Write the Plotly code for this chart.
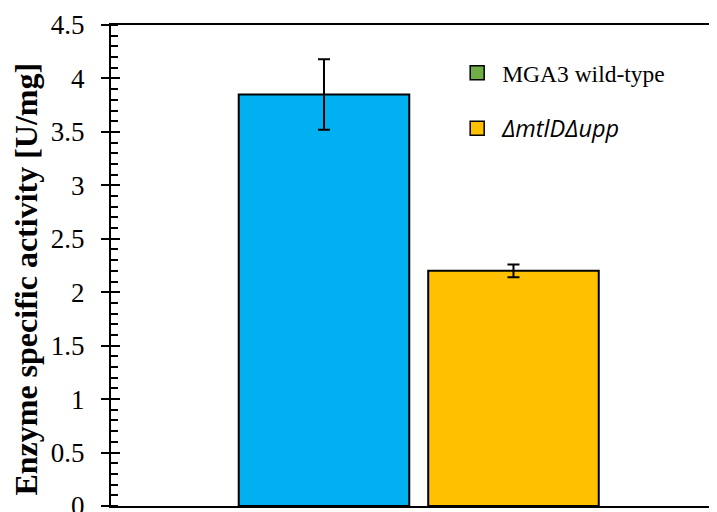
import plotly.graph_objects as go

categories = ["MGA3 wild-type", "ΔmtlDΔupp"]
values = [3.85, 2.20]
errors = [0.33, 0.06]
bar_colors = ["#00B0F0", "#FFC000"]
legend_labels = ["<span style='font-family:Liberation Serif'>MGA3 wild-type</span>",
                 "<span style='font-family:Open Sans'><i>ΔmtlDΔupp</i></span>"]
legend_colors = ["#70AD47", "#FFC000"]

fig = go.Figure()
fig.add_trace(go.Bar(
    x=categories, y=values,
    width=0.9,
    marker=dict(color=bar_colors, line=dict(color="black", width=2)),
    error_y=dict(type="data", array=errors, color="black", thickness=2, width=6),
    showlegend=False,
))
for lab, col in zip(legend_labels, legend_colors):
    fig.add_trace(go.Scatter(
        x=[None], y=[None], mode="markers", name=lab, legendgroup=lab,
        marker=dict(symbol="square", size=14, color=col, line=dict(color="black", width=1.5)),
    ))
# inside half of major ticks
fig.add_trace(go.Scatter(x=[None], y=[None], yaxis="y2", showlegend=False))

fig.update_layout(
    width=709, height=504,
    margin=dict(l=103, r=0, t=17, b=6),
    paper_bgcolor="white", plot_bgcolor="white",
    font=dict(family="Liberation Serif", color="black"),
    showlegend=True,
    legend=dict(x=0.563, y=0.946, xanchor="left", yanchor="top",
                font=dict(size=23.5, family="Liberation Serif", color="black"),
                itemwidth=40,
                traceorder="grouped", tracegroupgap=22, bgcolor="rgba(0,0,0,0)"),
    xaxis=dict(range=[-1.124, 2.074], showticklabels=False, ticks="",
               showline=True, mirror=True, linecolor="black", linewidth=2,
               showgrid=False, zeroline=False, automargin=False),
    yaxis=dict(range=[0, 4.5], dtick=0.5, tickformat="~g",
               ticks="outside", ticklen=8, tickwidth=2, tickcolor="black",
               ticklabelstandoff=11, ticklabeloverflow="allow", automargin=False,
               minor=dict(ticks="inside", ticklen=7, tickwidth=2, dtick=0.1, tickcolor="black"),
               tickfont=dict(size=27, family="Liberation Serif", color="black"),
               showline=True, linecolor="black", linewidth=2,
               showgrid=False, zeroline=False),
    yaxis2=dict(range=[0, 4.5], dtick=0.5, overlaying="y", side="left",
                ticks="inside", ticklen=9, tickwidth=2, tickcolor="black", automargin=False,
                showticklabels=False, showgrid=False, zeroline=False, showline=False),
    annotations=[dict(
        text="<b>Enzyme specific activity [U/mg]</b>", textangle=-90,
        xref="paper", yref="paper", x=-0.14, y=0.471,
        xanchor="center", yanchor="middle", showarrow=False,
        font=dict(size=32, family="Liberation Serif", color="black"),
    )],
)

fig.write_html("out.html")
